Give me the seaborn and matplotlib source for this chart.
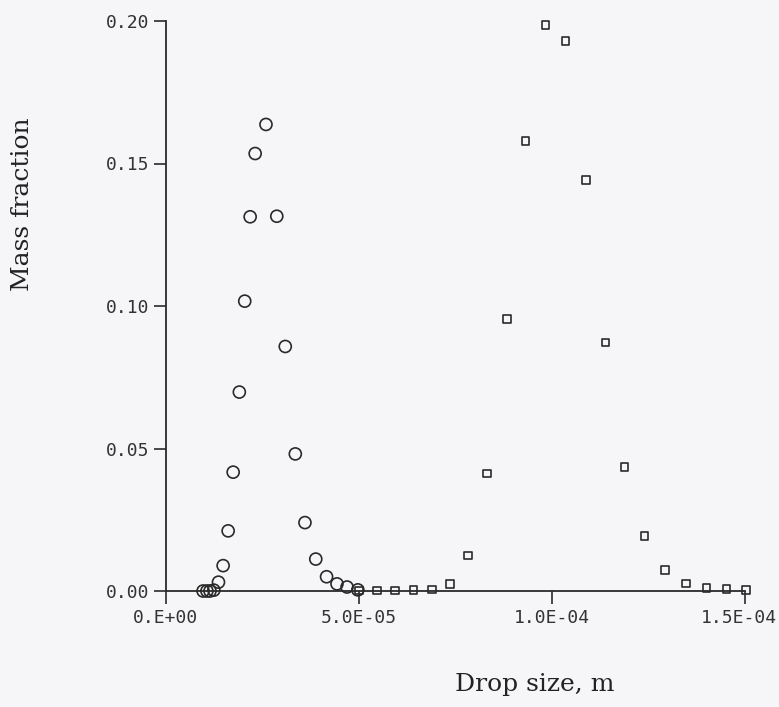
import numpy as np
import pandas as pd
import matplotlib
matplotlib.use("Agg")
import matplotlib.pyplot as plt
import matplotlib.transforms as mtransforms
import seaborn as sns

# drop sizes in units of 1e-5 m
small_x = [0.96, 1.06, 1.14, 1.24, 1.36, 1.48, 1.61, 1.74, 1.90, 2.04, 2.18, 2.31,
           2.59, 2.87, 3.09, 3.35, 3.60, 3.88, 4.16, 4.43, 4.69, 4.97]
small_y = [0.0, 0.0, 0.0, 0.0003, 0.0031, 0.0089, 0.0211, 0.0417, 0.0698, 0.1017,
           0.1313, 0.1535, 0.1637, 0.1315, 0.0858, 0.0481, 0.0240, 0.0112, 0.0050,
           0.0025, 0.0014, 0.0004]

large_x = [5.0, 5.46, 5.93, 6.41, 6.89, 7.35, 7.82, 8.31, 8.83, 9.31, 9.83, 10.35,
           10.88, 11.39, 11.88, 12.40, 12.92, 13.47, 14.0, 14.52, 15.03]
large_y = [0.0002, 0.0002, 0.0002, 0.0003, 0.0005, 0.0025, 0.0125, 0.0412, 0.0955,
           0.1580, 0.1985, 0.1930, 0.1442, 0.0872, 0.0436, 0.0192, 0.0074, 0.0026,
           0.0011, 0.0007, 0.0003]

y_ticks = [0.0, 0.05, 0.10, 0.15, 0.20]
y_labels = ["0.00", "0.05", "0.10", "0.15", "0.20"]
x_ticks = [0.0, 5e-5, 1e-4, 1.5e-4]
x_labels = ["0.E+00", "5.0E-05", "1.0E-04", "1.5E-04"]

small_df = pd.DataFrame({"size": np.array(small_x) * 1e-5, "frac": small_y})
large_df = pd.DataFrame({"size": np.array(large_x) * 1e-5, "frac": large_y})

sns.set_style("ticks")
paper = "#f6f6f8"
ink = "#2a2a2a"

fig = plt.figure(figsize=(7.79, 7.07), dpi=100, facecolor=paper)
ax = fig.add_axes([166 / 779, 1 - 591 / 707, 579 / 779, 570 / 707])
ax.set_facecolor("none")

sns.scatterplot(data=small_df, x="size", y="frac", ax=ax, marker="o", s=75,
                facecolor="none", edgecolor=ink, linewidth=1.2, clip_on=False, zorder=3)
sns.scatterplot(data=large_df, x="size", y="frac", ax=ax, marker="s", s=30,
                facecolor="none", edgecolor=ink, linewidth=1.2, clip_on=False, zorder=3)

ax.set_xlim(0, 1.5e-4)
ax.set_ylim(0, 0.20)
for side in ["top", "right"]:
    ax.spines[side].set_visible(False)
for side in ["left", "bottom"]:
    ax.spines[side].set_color(ink)
    ax.spines[side].set_linewidth(1.3)

ax.set_yticks(y_ticks)
ax.set_yticklabels(y_labels)
ax.set_xticks(x_ticks)
ax.set_xticklabels(x_labels)
ax.tick_params(axis="both", direction="out", length=9, width=1.2, color=ink,
               labelcolor="#333333", labelsize=13, pad=4)
ax.tick_params(axis="y", pad=3)
for lab in ax.get_xticklabels() + ax.get_yticklabels():
    lab.set_family("DejaVu Sans Mono")

# last x label sits against the right edge, nudge it in a bit
last = ax.get_xticklabels()[-1]
shift = mtransforms.ScaledTranslation(-6 / 100, 0, fig.dpi_scale_trans)
last.set_transform(last.get_transform() + shift)

ax.set_xlabel("")
ax.set_ylabel("")

fig.text(535 / 779, 1 - 685 / 707, "Drop size, m", family="DejaVu Serif",
         fontsize=18, color="#222222", ha="center", va="center")
fig.text(23 / 779, 1 - 204 / 707, "Mass fraction", family="DejaVu Serif",
         fontsize=18, color="#222222", ha="center", va="center", rotation=90)

fig.savefig("out.png", dpi=100, facecolor=paper)
